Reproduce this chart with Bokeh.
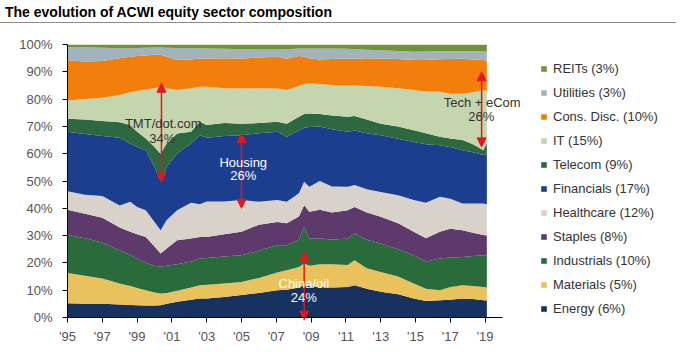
from bokeh.plotting import figure
from bokeh.models import (Range1d, FixedTicker, Legend, LegendItem, Label, Arrow,
                          NormalHead, ColumnDataSource, Div)
from bokeh.layouts import column
from bokeh.embed import file_html
from bokeh.resources import INLINE

title_text = "The evolution of ACWI equity sector composition"

years = [1995.0, 1996.0, 1997.0, 1998.0, 1998.6, 1999.0, 1999.5, 2000.0, 2000.35, 2000.7,
         2001.3, 2002.1, 2002.6, 2003.0, 2004.0, 2005.0, 2006.0, 2007.05, 2007.6, 2008.3,
         2008.6, 2008.9, 2009.5, 2010.2, 2011.1, 2011.5, 2012.2, 2013.0, 2014.0, 2014.9,
         2015.6, 2016.4, 2017.0, 2017.7, 2018.3, 2018.9, 2019.1]

energy = [5.2, 5.0, 5.0, 4.8, 4.6, 4.5, 4.4, 4.4, 4.5, 5.0,
          5.8, 6.5, 7.0, 7.0, 7.5, 8.2, 9.0, 10.0, 10.2, 11.0,
          11.8, 11.5, 11.2, 11.0, 11.2, 11.8, 10.5, 9.4, 8.5, 7.0,
          6.0, 6.3, 6.5, 7.0, 6.8, 6.3, 6.2]
materials = [11.1, 10.3, 9.3, 7.7, 6.9, 6.3, 5.6, 4.8, 4.3, 4.0,
             4.0, 4.5, 4.8, 5.0, 5.0, 4.8, 5.5, 6.5, 7.1, 7.5,
             8.0, 7.5, 8.3, 8.5, 8.0, 9.2, 7.5, 7.3, 6.5, 5.5,
             4.5, 3.7, 4.7, 4.8, 4.7, 4.9, 4.8]
industrials = [14.0, 13.7, 13.2, 12.0, 11.5, 10.7, 10.0, 9.8, 9.8, 10.0,
               9.7, 9.5, 9.8, 9.8, 9.8, 9.8, 10.0, 10.0, 9.2, 10.0,
               13.4, 9.9, 9.5, 9.0, 9.7, 9.8, 10.5, 10.4, 10.0, 10.3,
               10.0, 11.6, 10.8, 10.4, 11.0, 11.6, 11.5]
staples = [9.2, 9.0, 9.0, 8.5, 8.4, 9.0, 9.5, 7.0, 4.8, 6.3,
           8.8, 8.4, 7.9, 7.7, 8.2, 8.6, 9.5, 8.5, 8.0, 8.5,
           7.9, 9.8, 10.5, 10.0, 10.4, 9.7, 10.0, 9.8, 9.5, 8.6,
           8.5, 9.8, 10.5, 9.8, 8.5, 7.4, 7.5]
healthcare = [6.7, 7.0, 8.0, 8.0, 11.0, 10.0, 9.8, 9.0, 8.6, 10.4,
              11.0, 13.1, 12.0, 13.0, 12.0, 11.6, 8.4, 8.0, 7.9, 8.5,
              8.6, 9.2, 10.5, 9.5, 8.6, 8.0, 8.5, 9.1, 10.3, 11.6,
              13.0, 12.8, 11.0, 9.8, 10.8, 11.6, 11.5]
financials = [21.8, 22.2, 22.0, 24.8, 21.3, 22.0, 22.0, 20.0, 18.0, 19.5,
              20.8, 21.7, 25.3, 23.3, 24.0, 23.8, 25.1, 25.0, 23.8, 23.0,
              19.8, 21.9, 20.0, 21.0, 20.1, 20.0, 20.5, 20.8, 20.7, 21.3,
              21.5, 18.9, 19.0, 19.5, 18.7, 17.7, 18.3]
telecom = [4.8, 5.3, 5.5, 5.7, 6.8, 5.5, 4.3, 7.5, 10.0, 8.5,
           7.3, 4.3, 4.9, 4.7, 4.7, 4.2, 3.7, 3.7, 4.8, 5.0,
           5.0, 4.9, 4.5, 5.0, 5.5, 5.3, 5.0, 4.2, 4.5, 4.3,
           4.0, 3.1, 3.1, 3.7, 3.0, 1.8, 4.2]
it = [6.7, 7.5, 8.5, 10.0, 12.0, 15.0, 17.9, 21.5, 24.5, 20.3,
      15.9, 16.0, 12.8, 14.0, 12.8, 12.9, 12.8, 12.2, 12.3, 11.3,
      11.0, 11.0, 11.0, 11.2, 11.6, 11.2, 12.3, 13.5, 14.0, 14.7,
      15.3, 16.5, 16.4, 17.0, 19.0, 22.0, 19.0]
cons_disc = [14.7, 13.8, 13.5, 13.5, 13.0, 12.8, 12.5, 12.2, 11.7, 11.5,
             11.0, 10.5, 10.4, 10.4, 11.0, 11.0, 11.2, 11.6, 11.5, 11.0,
             10.0, 9.3, 9.0, 9.5, 9.8, 9.8, 10.2, 10.4, 10.7, 11.0,
             11.5, 11.9, 12.7, 12.8, 12.0, 11.0, 11.0]
utilities = [4.8, 5.2, 4.8, 3.6, 3.1, 2.9, 2.8, 2.7, 2.7, 3.3,
             4.4, 4.1, 3.7, 3.6, 3.4, 3.4, 3.0, 2.7, 3.5, 2.7,
             3.0, 3.5, 4.0, 3.8, 3.5, 3.5, 3.1, 3.0, 2.9, 3.0,
             3.1, 2.9, 2.9, 2.8, 3.0, 3.1, 3.4]
reits = [1.0, 1.0, 1.2, 1.4, 1.4, 1.3, 1.2, 1.1, 1.1, 1.2,
         1.3, 1.4, 1.4, 1.5, 1.6, 1.7, 1.8, 1.8, 1.7, 1.5,
         1.5, 1.5, 1.5, 1.5, 1.6, 1.7, 1.9, 2.1, 2.4, 2.7,
         2.6, 2.5, 2.4, 2.4, 2.5, 2.6, 2.6]

sector_keys = ["energy", "materials", "industrials", "staples", "healthcare", "financials",
               "telecom", "it", "cons_disc", "utilities", "reits"]
sector_labels = ["Energy (6%)", "Materials (5%)", "Industrials (10%)", "Staples (8%)",
                 "Healthcare (12%)", "Financials (17%)", "Telecom (9%)", "IT (15%)",
                 "Cons. Disc. (10%)", "Utilities (3%)", "REITs (3%)"]
sector_colors = ["#17325E", "#E9C25E", "#2A6B3C", "#5E3A6C", "#D8D2CA", "#1B3F8E",
                 "#2D6840", "#C5D6AE", "#F27F0C", "#A3B3BB", "#71923A"]

x_ticks = [1995, 1997, 1999, 2001, 2003, 2005, 2007, 2009, 2011, 2013, 2015, 2017, 2019]
x_tick_labels = ["'95", "'97", "'99", "'01", "'03", "'05", "'07", "'09", "'11", "'13",
                 "'15", "'17", "'19"]
y_ticks = [0, 10, 20, 30, 40, 50, 60, 70, 80, 90, 100]
y_tick_labels = ["0%", "10%", "20%", "30%", "40%", "50%", "60%", "70%", "80%", "90%", "100%"]

source = ColumnDataSource(dict(x=years, energy=energy, materials=materials,
                               industrials=industrials, staples=staples,
                               healthcare=healthcare, financials=financials,
                               telecom=telecom, it=it, cons_disc=cons_disc,
                               utilities=utilities, reits=reits))

FONT = "Liberation Sans"

# ---- header: title and thin rule ----
head = Div(
    text=('<div style="font-family:\'Liberation Sans\',Arial,sans-serif;font-size:14px;'
          'font-weight:bold;color:#000;padding-left:5px;height:23px;line-height:25px;'
          'border-bottom:1px solid #8a8a8a;width:676px;">' + title_text + '</div>'),
    width=681, height=25, margin=(0, 0, 0, 0))

# ---- main chart ----
fig = figure(width=681, height=327, output_backend="svg", toolbar_location=None,
             x_range=Range1d(1995, 1995 + 614 / 17.4), y_range=Range1d(0, 100),
             min_border_left=67, min_border_right=0, min_border_top=19,
             min_border_bottom=35)
fig.outline_line_color = None
fig.grid.visible = False
fig.background_fill_color = "white"
fig.border_fill_color = "white"

renderers = fig.varea_stack(stackers=sector_keys, x="x", color=sector_colors, source=source)

for ax in (fig.xaxis[0], fig.yaxis[0]):
    ax.axis_line_color = "#000000"
    ax.major_tick_line_color = "#000000"
    ax.major_tick_in = 0
    ax.major_tick_out = 5
    ax.minor_tick_line_color = None
    ax.major_label_text_font = FONT
    ax.major_label_text_font_size = "13px"
    ax.major_label_text_color = "#555555"

fig.xaxis.bounds = (1995, 2020)
fig.xaxis.ticker = FixedTicker(ticks=x_ticks)
fig.xaxis.major_label_overrides = dict(zip(x_ticks, x_tick_labels))
fig.xaxis.major_label_standoff = 6
fig.yaxis.ticker = FixedTicker(ticks=y_ticks)
fig.yaxis.major_label_overrides = dict(zip(y_ticks, y_tick_labels))
fig.yaxis.major_label_standoff = 10

items = [LegendItem(label=sector_labels[i], renderers=[renderers[i]])
         for i in reversed(range(len(sector_keys)))]
legend = Legend(items=items, location=(473, -1), orientation="vertical",
                label_text_font=FONT, label_text_font_size="13px",
                label_text_color="#333333", label_height=20, glyph_height=7,
                glyph_width=7, spacing=4, padding=0, margin=0, label_standoff=6,
                border_line_color=None, background_fill_alpha=0)
fig.add_layout(legend, "center")

RED = "#E5161C"


def double_arrow(x, y0, y1):
    fig.add_layout(Arrow(x_start=x, y_start=y0, x_end=x, y_end=y1,
                         line_color=RED, line_width=1.5,
                         start=NormalHead(size=9, fill_color=RED, line_color=RED),
                         end=NormalHead(size=9, fill_color=RED, line_color=RED)))


def note(x, y, text, color):
    fig.add_layout(Label(x=x, y=y, text=text, text_align="center", text_baseline="middle",
                         text_font=FONT, text_font_size="13px", text_color=color))


double_arrow(2000.4, 49.6, 85.8)
note(2000.5, 71.2, "TMT/dot.com", "#333333")
note(2000.45, 65.7, "34%", "#333333")

double_arrow(2005.0, 40.0, 67.4)
note(2005.1, 56.9, "Housing", "#ffffff")
note(2005.1, 52.1, "26%", "#ffffff")

double_arrow(2008.6, -1.0, 24.0)
note(2008.58, 12.5, "China/oil", "#ffffff")
note(2008.58, 7.2, "24%", "#ffffff")

double_arrow(2018.8, 62.5, 90.0)
note(2018.83, 78.6, "Tech + eCom", "#333333")
note(2018.78, 73.5, "26%", "#333333")

p = column(head, fig, spacing=0)

open("out.html", "w").write(file_html(p, INLINE))
